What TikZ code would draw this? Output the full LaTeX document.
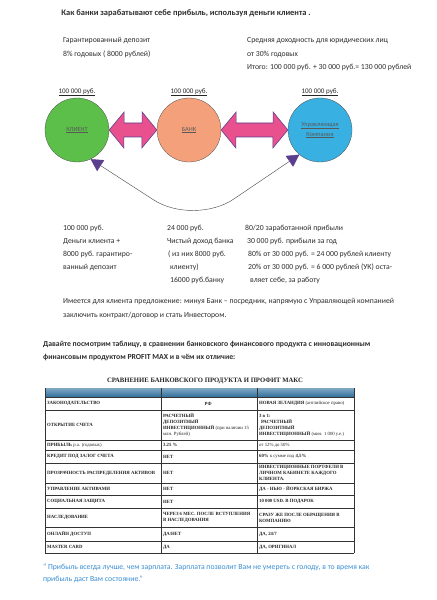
\documentclass[tikz,border=0pt]{standalone}
\usepackage{fontspec}
\setmainfont{Carlito}
\newfontfamily\tabfont{Liberation Serif}
\usetikzlibrary{arrows.meta,positioning,calc}

\definecolor{klientgreen}{HTML}{5CBF4A}
\definecolor{bankorange}{HTML}{F4A07A}
\definecolor{ukblue}{HTML}{38B0E2}
\definecolor{arrowpink}{HTML}{E8508E}
\definecolor{arrowpurple}{HTML}{5B3F8F}
\definecolor{quoteblue}{HTML}{3B8FD4}
\definecolor{headblue}{HTML}{2F6F9C}
\definecolor{inkgray}{HTML}{2E2E2E}

\tikzset{
  txt/.style={anchor=north west, inner sep=0pt, align=left, text=inkgray,
    font=\fontsize{11}{19}\selectfont},
  party/.style={draw=black!70, circle, minimum size=32mm, inner sep=0pt,
    align=center, text=black!65, font=\fontsize{9}{15}\selectfont},
  amount/.style={inner sep=0pt, text=black!85, font=\fontsize{10}{12}\selectfont},
  twoway/.style={fill=arrowpink, draw=arrowpurple, line width=0.8pt, line join=miter},
  link/.style={draw=black!70, line width=0.6pt, rounded corners=24mm,
    arrows={Triangle[length=6mm,width=6.5mm,fill=arrowpurple,color=arrowpurple]-Triangle[length=6mm,width=6.5mm,fill=arrowpurple,color=arrowpurple]}},
  tabline/.style={draw=black!80, line width=0.5pt},
  cell/.style={anchor=west, inner sep=0pt, align=left, text=black!85,
    font=\tabfont\fontsize{6.8}{8.5}\selectfont\bfseries},
  tabtitle/.style={inner sep=0pt, text=black!85, font=\tabfont\fontsize{9.5}{11}\selectfont\bfseries}
}

\begin{document}
\begin{tikzpicture}[x=0.5mm,y=-0.5mm]
\useasboundingbox[fill=white] (0,0) rectangle (436,600);

% heading
\node[txt, anchor=center, font=\fontsize{12}{14}\selectfont\bfseries] (title) at (186,13)
  {Как банки зарабатывают себе прибыль, используя деньги клиента .};

% notes above the circles
\node[txt] (depo) at (63,37.5) {Гарантированный  депозит\\8\% годовых ( 8000 рублей)};
\node[txt] (yield) at (247,37.5) {Средняя  доходность  для юридических  лиц\\от  30\% годовых\\Итого: 100 000 руб. + 30 000 руб.= 130 000 рублей};

% the three parties
\node[party, fill=klientgreen] (klient) at (77,130) {\underline{КЛИЕНТ}};
\node[party, fill=bankorange] (bank) at (189,130) {\underline{БАНК}};
\node[party, fill=ukblue] (uk) at (320,130) {\underline{Управляющая}\\\underline{Компания}};

\node[amount, above=1mm of klient] (sumk) {\underline{100 000 руб.}};
\node[amount, above=1mm of bank] (sumb) {\underline{100 000 руб.}};
\node[amount, above=1mm of uk] (sumu) {\underline{100 000 руб.}};

% money flows
\draw[twoway] (klient.east) -- ++(15,-18) -- ++(0,11) -- ++(18,0) -- ++(0,-11) -- (bank.west)
  -- ++(-15,18) -- ++(0,-11) -- ++(-18,0) -- ++(0,11) -- cycle;
\draw[twoway] (bank.east) -- ++(15,-18) -- ++(0,11) -- ++(37,0) -- ++(0,-11) -- (uk.west)
  -- ++(-15,18) -- ++(0,-11) -- ++(-37,0) -- ++(0,11) -- cycle;

% direct contract
\draw[link] (klient.-65) -- (194,226) -- (uk.-130);

% figures below
\node[txt, font=\fontsize{11}{18.5}\selectfont] (colk) at (63,225.5)
  {100 000 руб.\\Деньги  клиента +\\8000 руб. гарантиро-\\ванный  депозит};
\node[txt, font=\fontsize{11}{18.5}\selectfont] (colb) at (167,225.5)
  {24 000 руб.\\Чистый доход банка\\\hspace{0.5mm}( из них 8000 руб.\\\hspace{1.5mm}клиенту)\\\hspace{1.5mm}16000 руб.банку};
\node[txt, font=\fontsize{11}{18.5}\selectfont] (colu) at (245,224.5)
  {80/20 заработанной  прибыли\\\hspace{1mm}30 000 руб. прибыли  за год\\\hspace{1.5mm}80\% от 30 000 руб. = 24 000 рублей  клиенту\\\hspace{1.5mm}20\% от  30 000 руб. = 6 000 рублей  (УК) оста-\\\hspace{2.5mm}вляет  себе, за работу};

\node[txt] (offer) at (63,298.5)
  {Имеется  для  клиента  предложение:  минуя  Банк – посредник,  напрямую с Управляющей  компанией\\заключить  контракт/договор и  стать Инвестором.};

\node[txt, font=\fontsize{11}{17.5}\selectfont\bfseries] (intro) at (43,341.5)
  {Давайте посмотрим таблицу, в сравнении  банковского финансового продукта  с инновационным\\финансовым продуктом PROFIT MAX  и в чём их отличие:};

% comparison table
\node[tabtitle] (tabhead) at (205,381) {СРАВНЕНИЕ БАНКОВСКОГО ПРОДУКТА И ПРОФИТ МАКС};
\shade[top color=headblue!60, bottom color=headblue] (45,388) rectangle (354,397);
\foreach \yy in {397,410,440,450,463,483,495,508,527,541,553}
  \draw[tabline] (45,\yy) -- (354,\yy);
\foreach \xx in {45,161,257,354}
  \draw[tabline] (\xx,388) -- (\xx,553);

\foreach \yy/\ca/\cb/\cc [count=\r] in {
  403.5/{ЗАКОНОДАТЕЛЬСТВО}/{\makebox[45mm]{РФ}}/{НОВАЯ ЗЕЛАНДИЯ {\mdseries(английское право)}},
  425/{ОТКРЫТИЕ СЧЕТА}/{РАСЧЕТНЫЙ\\ДЕПОЗИТНЫЙ\\ИНВЕСТИЦИОННЫЙ {\mdseries(при наличии 15}\\{\mdseries млн. Рублей)}}/{3 в 1:\\\hspace{1mm}РАСЧЕТНЫЙ\\ДЕПОЗИТНЫЙ\\ИНВЕСТИЦИОННЫЙ {\mdseries(мин. 1 000 у.е.)}},
  445/{ПРИБЫЛЬ {\mdseries p.a. (годовых)}}/{3.25 \%}/{{\mdseries от 12\% до 50\%}},
  456.5/{КРЕДИТ ПОД ЗАЛОГ СЧЕТА}/{НЕТ}/{60\%  {\mdseries к сумме под}  4,5\%},
  473/{ПРОЗРАЧНОСТЬ РАСПРЕДЕЛЕНИЯ АКТИВОВ}/{НЕТ}/{ИНВЕСТИЦИОННЫЕ ПОРТФЕЛИ В\\ЛИЧНОМ КАБИНЕТЕ КАЖДОГО\\КЛИЕНТА.},
  489/{УПРАВЛЕНИЕ АКТИВАМИ}/{НЕТ}/{ДА - НЬЮ - ЙОРКСКАЯ БИРЖА},
  501.5/{СОЦИАЛЬНАЯ ЗАЩИТА}/{НЕТ}/{10 000 USD. В ПОДАРОК},
  517.5/{НАСЛЕДОВАНИЕ}/{ЧЕРЕЗ 6 МЕС. ПОСЛЕ ВСТУПЛЕНИЯ\\В НАСЛЕДОВАНИЯ}/{СРАЗУ ЖЕ ПОСЛЕ ОБРАЩЕНИЯ В\\КОМПАНИЮ},
  534/{ОНЛАЙН ДОСТУП}/{ДА/НЕТ}/{ДА, 24/7},
  547/{MASTER CARD}/{ДА}/{ДА, ОРИГИНАЛ}}
{
  \node[cell] (feat\r) at (47,\yy) {\ca};
  \node[cell] (bankv\r) at (163,\yy) {\cb};
  \node[cell] (maxv\r) at (259,\yy) {\cc};
}

% closing quote
\node[txt, text=quoteblue, font=\fontsize{11}{17}\selectfont] (quote) at (43,563.5)
  {“ Прибыль всегда лучше, чем зарплата. Зарплата позволит Вам не умереть с голоду, в то время  как\\прибыль  даст  Вам состояние.”};
\end{tikzpicture}
\end{document}
